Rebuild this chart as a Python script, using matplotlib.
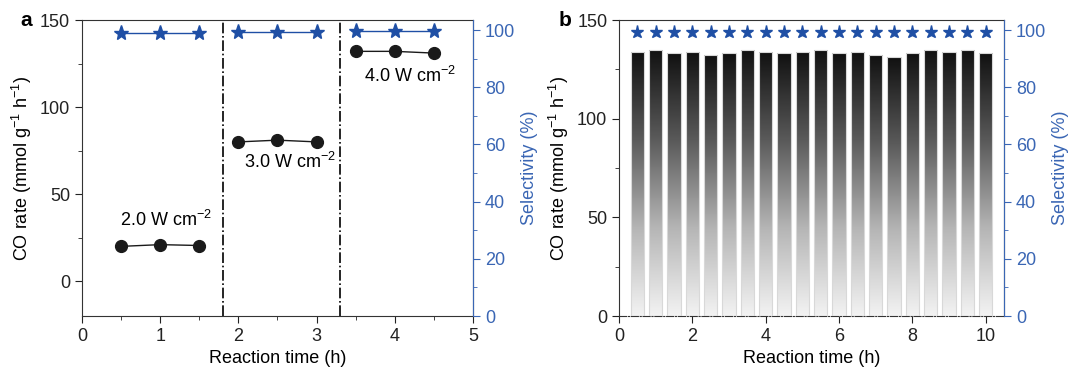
import matplotlib.pyplot as plt
import matplotlib as mpl
import numpy as np
from matplotlib.colors import LinearSegmentedColormap
from matplotlib.ticker import MultipleLocator

mpl.rcParams["font.family"] = ["Liberation Sans", "DejaVu Sans"]
mpl.rcParams["mathtext.fontset"] = "custom"
mpl.rcParams["mathtext.rm"] = "Liberation Sans"
mpl.rcParams["mathtext.it"] = "Liberation Sans:italic"
mpl.rcParams["font.size"] = 13

# panel a data
time_groups = [[0.5, 1.0, 1.5], [2.0, 2.5, 3.0], [3.5, 4.0, 4.5]]
rate_groups = [[20.0, 21.0, 20.5], [80.0, 81.0, 80.0], [132.0, 132.0, 131.0]]
sel_groups = [[99.0, 99.0, 99.0], [99.2, 99.2, 99.2], [99.6, 99.6, 99.6]]
power_labels = ["2.0 W cm$^{-2}$", "3.0 W cm$^{-2}$", "4.0 W cm$^{-2}$"]
label_pos = [(1.08, 35), (2.66, 68.5), (4.19, 118)]
dividers = [1.8, 3.3]

# panel b data
times_b = [0.5, 1.0, 1.5, 2.0, 2.5, 3.0, 3.5, 4.0, 4.5, 5.0,
           5.5, 6.0, 6.5, 7.0, 7.5, 8.0, 8.5, 9.0, 9.5, 10.0]
rates_b = [134, 135, 133.2, 134, 132.2, 133.2, 135, 134, 133.2, 134,
           135, 133.2, 134, 132.2, 131.1, 133.2, 135, 134, 135, 133.2]
sel_b = [99.2] * 20

blue = "#1f4fa5"
axblue = "#3a66b4"
dark = "#1a1a1a"

fig = plt.figure(figsize=(10.88, 3.74), dpi=100)
ax1 = fig.add_axes([0.0754, 0.155, 0.3593, 0.7915])
ax2 = ax1.twinx()

for t, r, s in zip(time_groups, rate_groups, sel_groups):
    ax1.plot(t, r, "-o", color=dark, ms=8.5, lw=1.0)
    ax2.plot(t, s, "-*", color=blue, ms=11, lw=1.0)
for (x, y), lab in zip(label_pos, power_labels):
    ax1.text(x, y, lab, ha="center", va="center", fontsize=13)
for d in dividers:
    ax1.axvline(d, color="black", ls="-.", lw=1.2)

ax1.set_xlim(0, 5)
ax1.set_ylim(-20, 150)
ax2.set_ylim(0, 103.5)
ax1.set_yticks([0, 50, 100, 150])
ax1.yaxis.set_minor_locator(MultipleLocator(25))
ax1.xaxis.set_minor_locator(MultipleLocator(0.5))
ax2.set_yticks([0, 20, 40, 60, 80, 100])
ax2.yaxis.set_minor_locator(MultipleLocator(10))
ax1.set_xlabel("Reaction time (h)")
ax1.set_ylabel("CO rate (mmol g$^{-1}$ h$^{-1}$)")
ax2.set_ylabel("Selectivity (%)", color=axblue)

# panel b
ax3 = fig.add_axes([0.569, 0.155, 0.3538, 0.7915])
ax4 = ax3.twinx()
cmap = LinearSegmentedColormap.from_list("g", ["#f3f3f3", "#b5b5b5", "#5a5a5a", "#111111"])
grad = np.linspace(0, 1, 256).reshape(-1, 1)
bars = ax3.bar(times_b, rates_b, width=0.36, color="none", edgecolor="#d8d8d8", lw=0.8, zorder=3)
for b in bars:
    x0, w, h = b.get_x(), b.get_width(), b.get_height()
    im = ax3.imshow(grad, cmap=cmap, origin="lower", aspect="auto",
                    extent=[x0, x0 + w, 0, h], zorder=2)
    im.set_clip_path(b)
ax4.plot(times_b, sel_b, "*", color=blue, ms=9.5, lw=0)

ax3.set_xlim(0, 10.5)
ax3.set_ylim(0, 150)
ax4.set_ylim(0, 103.5)
ax3.set_xticks([0, 2, 4, 6, 8, 10])
ax3.set_yticks([0, 50, 100, 150])
ax3.yaxis.set_minor_locator(MultipleLocator(25))
ax4.set_yticks([0, 20, 40, 60, 80, 100])
ax4.yaxis.set_minor_locator(MultipleLocator(10))
ax3.spines["bottom"].set_linestyle("-.")
ax3.set_xlabel("Reaction time (h)")
ax3.set_ylabel("CO rate (mmol g$^{-1}$ h$^{-1}$)")
ax4.set_ylabel("Selectivity (%)", color=axblue)

for a in (ax1, ax3):
    for sp in ("left", "bottom", "top"):
        a.spines[sp].set_color("#333333")
    a.tick_params(which="both", direction="out", colors="#222222", labelsize=13)
    a.tick_params(which="major", length=5)
    a.tick_params(which="minor", length=3)
for a in (ax2, ax4):
    a.spines["right"].set_color(axblue)
    a.tick_params(which="both", direction="out", colors=axblue, labelcolor=axblue, labelsize=13)
    a.tick_params(which="major", length=5)
    a.tick_params(which="minor", length=3)
    for sp in ("left", "top", "bottom"):
        a.spines[sp].set_visible(False)

fig.text(0.019, 0.945, "a", fontsize=15, fontweight="bold", va="center")
fig.text(0.513, 0.945, "b", fontsize=15, fontweight="bold", va="center")

fig.savefig("out.png", dpi=100)
